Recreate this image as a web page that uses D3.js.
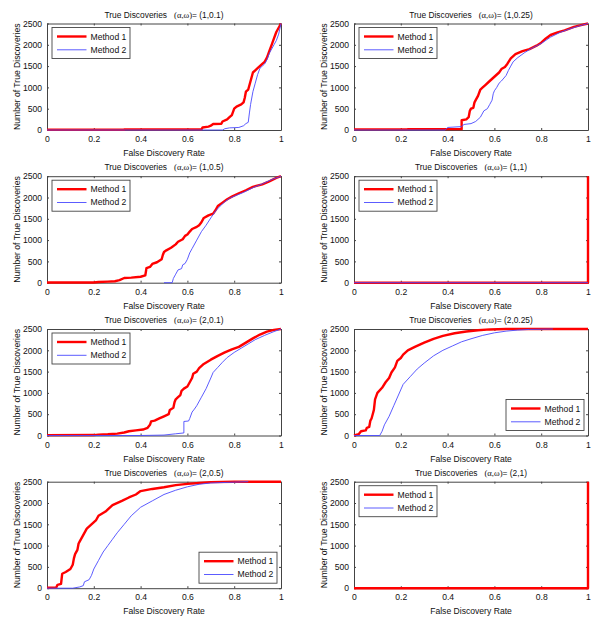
<!DOCTYPE html>
<html><head><meta charset="utf-8">
<script src="https://cdn.jsdelivr.net/npm/d3@7"></script>
<style>
body{margin:0;background:#fff;}
svg{display:block;font-family:"Liberation Sans",Arial,sans-serif;}
</style></head>
<body><svg id="c" width="600" height="627"></svg>
<script>
// ---------- data ----------
const panelParams = ["(1,0.1)","(1,0.25)","(1,0.5)","(1,1)","(2,0.1)","(2,0.25)","(2,0.5)","(2,1)"];
const xTicks = [0,0.2,0.4,0.6,0.8,1];
const yTicks = [0,500,1000,1500,2000,2500];
const seriesNames = ["Method 1","Method 2"];
const legendCorner = ["nw","nw","nw","nw","nw","se","se","nw"];
const topSeries = [1,1,1,1,1,1,1,0];

const m1_p1 = [[0,5],[0.33,5],[0.33,15],[0.66,15],[0.665,60],[0.69,80],[0.70,100],[0.71,140],[0.745,145],[0.75,200],[0.77,250],[0.78,300],[0.79,350],[0.80,500],[0.81,550],[0.83,600],[0.84,650],[0.845,750],[0.85,900],[0.86,950],[0.865,1050],[0.87,1150],[0.875,1250],[0.88,1350],[0.89,1400],[0.90,1450],[0.92,1550],[0.93,1600],[0.94,1700],[0.95,1850],[0.96,2000],[0.97,2150],[0.98,2300],[0.99,2400],[1,2500]];
const m2_p1 = [[0,0],[0.75,0],[0.76,30],[0.78,50],[0.82,60],[0.84,100],[0.85,150],[0.86,180],[0.865,400],[0.87,600],[0.88,900],[0.89,1100],[0.90,1300],[0.91,1450],[0.92,1500],[0.93,1550],[0.94,1650],[0.95,1800],[0.96,1900],[0.97,2000],[0.98,2100],[0.99,2250],[1,2500]];

const m1_p2 = [[0,15],[0.23,15],[0.23,20],[0.46,20],[0.46,230],[0.48,250],[0.49,300],[0.495,450],[0.50,500],[0.51,520],[0.515,650],[0.52,700],[0.53,800],[0.54,950],[0.55,1000],[0.56,1050],[0.58,1150],[0.60,1250],[0.62,1350],[0.63,1430],[0.645,1480],[0.655,1550],[0.67,1680],[0.69,1780],[0.72,1850],[0.75,1900],[0.78,1980],[0.80,2050],[0.82,2150],[0.84,2230],[0.87,2290],[0.90,2340],[0.94,2420],[0.97,2460],[1,2500]];
const m2_p2 = [[0,0],[0.39,0],[0.40,60],[0.46,80],[0.47,130],[0.50,150],[0.52,200],[0.53,250],[0.54,300],[0.555,450],[0.57,500],[0.58,600],[0.59,700],[0.595,850],[0.60,920],[0.61,1000],[0.62,1100],[0.63,1150],[0.65,1280],[0.66,1400],[0.67,1500],[0.68,1600],[0.70,1700],[0.73,1820],[0.76,1920],[0.80,2030],[0.84,2180],[0.88,2290],[0.92,2370],[0.96,2440],[1,2500]];

const m1_p3 = [[0,5],[0.20,5],[0.22,15],[0.26,25],[0.29,35],[0.31,60],[0.33,110],[0.36,120],[0.40,140],[0.42,170],[0.425,340],[0.44,370],[0.45,440],[0.47,480],[0.49,550],[0.495,650],[0.50,720],[0.51,760],[0.53,820],[0.55,900],[0.56,960],[0.58,1020],[0.59,1100],[0.60,1130],[0.61,1200],[0.62,1260],[0.64,1310],[0.65,1350],[0.66,1420],[0.67,1520],[0.69,1580],[0.71,1620],[0.72,1700],[0.73,1800],[0.75,1880],[0.77,1960],[0.79,2020],[0.82,2100],[0.85,2170],[0.88,2250],[0.92,2310],[0.95,2380],[0.98,2460],[1,2500]];
const m2_p3 = [[0.50,0],[0.535,0],[0.54,100],[0.55,200],[0.56,300],[0.575,330],[0.58,420],[0.59,450],[0.60,550],[0.61,700],[0.62,800],[0.64,1000],[0.66,1200],[0.68,1350],[0.70,1520],[0.72,1680],[0.74,1800],[0.76,1900],[0.78,1980],[0.80,2030],[0.84,2120],[0.88,2230],[0.92,2320],[0.96,2420],[1,2500]];

const m1_p4 = [[0,0],[1,0],[1,2500]];
const m2_p4 = [[0,0],[1,0]];

const m1_p5 = [[0,8],[0.2,10],[0.22,20],[0.26,30],[0.30,45],[0.33,70],[0.35,100],[0.38,120],[0.41,140],[0.43,180],[0.44,250],[0.445,330],[0.46,350],[0.48,400],[0.50,450],[0.52,500],[0.525,600],[0.54,650],[0.545,780],[0.55,850],[0.56,900],[0.57,950],[0.575,1050],[0.585,1100],[0.60,1150],[0.61,1250],[0.62,1350],[0.625,1450],[0.64,1500],[0.65,1580],[0.67,1680],[0.70,1780],[0.73,1870],[0.76,1950],[0.79,2020],[0.82,2080],[0.85,2180],[0.88,2280],[0.91,2370],[0.94,2440],[0.97,2480],[1,2500]];
const m2_p5 = [[0,0],[0.40,0],[0.50,10],[0.55,40],[0.585,60],[0.585,330],[0.605,340],[0.61,400],[0.62,550],[0.63,620],[0.64,700],[0.66,900],[0.68,1100],[0.70,1350],[0.71,1480],[0.73,1600],[0.75,1720],[0.77,1830],[0.80,1950],[0.83,2050],[0.86,2150],[0.89,2250],[0.93,2350],[0.97,2440],[1,2500]];

const m1_p6 = [[0,0],[0.02,30],[0.03,100],[0.05,120],[0.055,180],[0.065,200],[0.07,350],[0.075,400],[0.08,500],[0.085,600],[0.09,850],[0.10,1000],[0.12,1120],[0.135,1250],[0.15,1350],[0.16,1480],[0.175,1600],[0.185,1750],[0.20,1820],[0.21,1900],[0.23,2000],[0.26,2080],[0.30,2180],[0.34,2270],[0.38,2340],[0.43,2400],[0.48,2440],[0.53,2470],[0.58,2490],[0.65,2500],[1,2500]];
const m2_p6 = [[0,0],[0.11,0],[0.12,100],[0.13,250],[0.15,450],[0.17,700],[0.19,950],[0.21,1200],[0.24,1380],[0.27,1560],[0.30,1700],[0.34,1870],[0.38,2000],[0.42,2100],[0.46,2200],[0.50,2270],[0.55,2350],[0.60,2410],[0.65,2450],[0.70,2475],[0.75,2490],[0.85,2500]];

const m1_p7 = [[0,10],[0.04,20],[0.045,80],[0.06,100],[0.065,340],[0.08,380],[0.10,450],[0.11,550],[0.115,700],[0.12,800],[0.13,900],[0.135,1050],[0.14,1100],[0.15,1200],[0.16,1300],[0.17,1400],[0.19,1500],[0.21,1600],[0.22,1700],[0.25,1800],[0.28,1950],[0.32,2050],[0.35,2130],[0.38,2200],[0.40,2280],[0.45,2330],[0.50,2370],[0.55,2420],[0.60,2450],[0.65,2470],[0.70,2490],[0.8,2500],[1,2500]];
const m2_p7 = [[0,0],[0.11,0],[0.14,30],[0.155,60],[0.16,150],[0.18,200],[0.19,300],[0.20,450],[0.22,650],[0.24,850],[0.26,1000],[0.28,1150],[0.30,1300],[0.33,1500],[0.36,1700],[0.40,1900],[0.45,2050],[0.50,2200],[0.55,2300],[0.60,2380],[0.65,2440],[0.70,2470],[0.80,2490],[0.86,2500]];

const m1_p8 = [[0,0],[1,0],[1,2500]];
const m2_p8 = [[0,0],[1,0]];

const method1 = [m1_p1,m1_p2,m1_p3,m1_p4,m1_p5,m1_p6,m1_p7,m1_p8];
const method2 = [m2_p1,m2_p2,m2_p3,m2_p4,m2_p5,m2_p6,m2_p7,m2_p8];

// ---------- layout ----------
const colLeft = [47, 354];
const rowTop = [23.5, 176.2, 329, 481.7];
const W = 234, H = 106.5;
const colors = ["#ff0000","#4a4aff"];
const widths = [2.4, 0.9];
const fs = 8.6;

const svg = d3.select("#c");
const x = d3.scaleLinear().domain([0,1]).range([0,W]);
const y = d3.scaleLinear().domain([0,2500]).range([H,0]);
const line = d3.line().x(d=>x(d[0])).y(d=>y(d[1]));
const fmt = d3.format("~g");
const fmtY = d3.format("d");

panelParams.forEach((p,i)=>{
  const col = i%2, row = Math.floor(i/2);
  const g = svg.append("g").attr("transform",`translate(${colLeft[col]},${rowTop[row]})`);

  const ax = g.append("g").attr("transform",`translate(0,${H})`)
    .call(d3.axisBottom(x).tickValues(xTicks).tickFormat(fmt).tickSizeInner(-2).tickSizeOuter(0).tickPadding(6));
  const ay = g.append("g")
    .call(d3.axisLeft(y).tickValues(yTicks).tickFormat(fmtY).tickSizeInner(-2).tickSizeOuter(0).tickPadding(5));
  const at = g.append("g").call(d3.axisTop(x).tickValues(xTicks).tickFormat("").tickSizeInner(-2).tickSizeOuter(0));
  const ar = g.append("g").attr("transform",`translate(${W},0)`).call(d3.axisRight(y).tickValues(yTicks).tickFormat("").tickSizeInner(-2).tickSizeOuter(0));
  [ax,ay,at,ar].forEach(a=>{
    a.select(".domain").attr("stroke","#444");
    a.selectAll(".tick line").attr("stroke","#444");
    a.selectAll("text").attr("font-size",fs).attr("font-family","'Liberation Sans',Arial,sans-serif").attr("fill","#111");
  });

  const data = [method1[i], method2[i]];
  const order = topSeries[i]===1 ? [0,1] : [1,0];
  order.forEach(k=>{
    g.append("path").datum(data[k]).attr("d",line)
      .attr("fill","none").attr("stroke",colors[k]).attr("stroke-width",widths[k])
      .attr("stroke-linejoin","round");
  });

  const t = g.append("text").attr("x",W/2).attr("y",-6).attr("text-anchor","middle")
    .attr("font-size",8.4).attr("fill","#111");
  t.append("tspan").text("True Discoveries\u00a0\u00a0\u00a0");
  t.append("tspan").attr("font-family","'Liberation Serif',serif").attr("font-size",8.6).text("(α,ω)");
  t.append("tspan").text("= "+p);

  g.append("text").attr("x",W/2).attr("y",H+26).attr("text-anchor","middle")
    .attr("font-size",8.6).attr("fill","#111").text("False Discovery Rate");
  g.append("text").attr("transform",`translate(-27,${H/2}) rotate(-90)`).attr("text-anchor","middle")
    .attr("font-size",8.6).attr("fill","#111").text("Number of True Discoveries");

  const lw = 78, lh = 31;
  const lx = legendCorner[i]==="nw" ? 5 : W-4-lw;
  const ly = legendCorner[i]==="nw" ? 4 : H-5-lh;
  const lg = g.append("g").attr("transform",`translate(${lx},${ly})`);
  lg.append("rect").attr("width",lw).attr("height",lh).attr("fill","#fff").attr("stroke","#444").attr("stroke-width",0.9);
  seriesNames.forEach((n,k)=>{
    const yy = 9 + k*13.3;
    lg.append("line").attr("x1",5).attr("x2",34.5).attr("y1",yy).attr("y2",yy)
      .attr("stroke",colors[k]).attr("stroke-width",widths[k]);
    lg.append("text").attr("x",38.5).attr("y",yy+3).attr("font-size",fs).attr("fill","#111").text(n);
  });
});
</script></body></html>
